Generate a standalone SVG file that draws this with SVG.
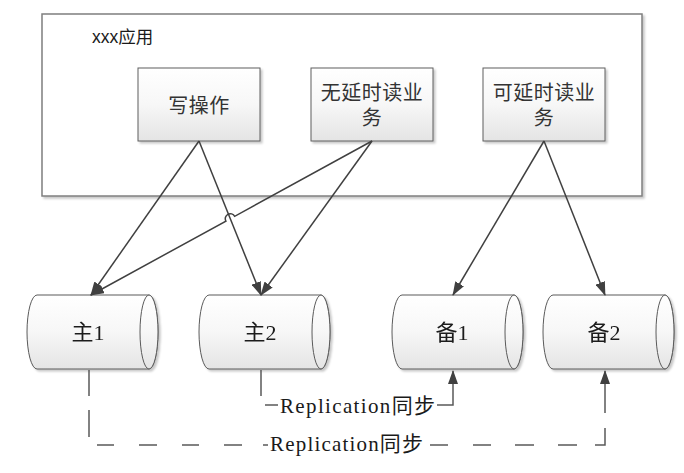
<svg xmlns="http://www.w3.org/2000/svg" width="684" height="473" viewBox="0 0 684 473">
<defs>
<linearGradient id="g" x1="0" y1="0" x2="0" y2="1">
<stop offset="0" stop-color="#ffffff"/>
<stop offset="0.5" stop-color="#f7f7f7"/>
<stop offset="1" stop-color="#e4e4e4"/>
</linearGradient>
<filter id="sh" x="-10%" y="-10%" width="130%" height="130%">
<feDropShadow dx="2" dy="2" stdDeviation="1.2" flood-color="#000" flood-opacity="0.22"/>
</filter>
<marker id="ah" markerUnits="userSpaceOnUse" markerWidth="14" markerHeight="10" refX="13" refY="5" orient="auto">
<path d="M0,0 L14,5 L0,10 Z" fill="#404040"/>
</marker>
</defs>
<style>
.box{fill:url(#g);stroke:#5f5f5f;stroke-width:1;filter:url(#sh)}
.cyl{fill:url(#g);stroke:#5a5a5a;stroke-width:1}
.t{font-family:"Liberation Sans","Noto Sans CJK SC",sans-serif;font-size:20px;fill:#333333;text-anchor:middle;letter-spacing:0.5px}
.s{font-family:"Liberation Serif","Noto Sans CJK SC",serif;font-size:22px;fill:#1a1a1a;text-anchor:middle}
.l{font-family:"Liberation Serif","Noto Sans CJK SC",serif;font-size:21px;fill:#1a1a1a}
.c{fill:none;stroke:#404040;stroke-width:1.5}
.d{fill:none;stroke:#595959;stroke-width:1.5}
</style>

<g id="app">
<rect x="42" y="14" width="600" height="182" fill="#ffffff" stroke="#7f7f7f" stroke-width="1.5" filter="url(#sh)"/>
<text x="92" y="43" font-family="'Liberation Sans','Noto Sans CJK SC',sans-serif" font-size="17.5" fill="#1a1a1a">xxx应用</text>
</g>

<g id="write">
<rect class="box" x="138" y="68" width="122" height="73"/>
<text class="t" x="199" y="113">写操作</text>
</g>
<g id="read-nodelay">
<rect class="box" x="311" y="68" width="122" height="73"/>
<text class="t" x="372" y="100">无延时读业</text>
<text class="t" x="372" y="125">务</text>
</g>
<g id="read-delay">
<rect class="box" x="483" y="68" width="122" height="73"/>
<text class="t" x="544" y="100">可延时读业</text>
<text class="t" x="544" y="125">务</text>
</g>

<g id="master1" filter="url(#sh)">
<path class="cyl" d="M37,295 L149,295 A9,37 0 0 1 149,369 L37,369 A10,37 0 0 1 37,295 Z"/>
<ellipse class="cyl" cx="149" cy="332" rx="9" ry="37"/>
<text class="s" x="88" y="340">主1</text>
</g>
<g id="master2" filter="url(#sh)">
<path class="cyl" d="M209,295 L321,295 A9,37 0 0 1 321,369 L209,369 A10,37 0 0 1 209,295 Z"/>
<ellipse class="cyl" cx="321" cy="332" rx="9" ry="37"/>
<text class="s" x="260" y="340">主2</text>
</g>
<g id="backup1" filter="url(#sh)">
<path class="cyl" d="M402,295 L514,295 A9,37 0 0 1 514,369 L402,369 A10,37 0 0 1 402,295 Z"/>
<ellipse class="cyl" cx="514" cy="332" rx="9" ry="37"/>
<text class="s" x="452" y="340">备1</text>
</g>
<g id="backup2" filter="url(#sh)">
<path class="cyl" d="M553,295 L665,295 A9,37 0 0 1 665,369 L553,369 A10,37 0 0 1 553,295 Z"/>
<ellipse class="cyl" cx="665" cy="332" rx="9" ry="37"/>
<text class="s" x="604" y="340">备2</text>
</g>

<g id="connectors">
<path class="c" d="M199,141 L91,295" marker-end="url(#ah)"/>
<path class="c" d="M199,141 L261,295" marker-end="url(#ah)"/>
<path class="c" d="M372,141 L234.7,216.3 A5,5 0 0 0 225.9,221.1 L91,295" marker-end="url(#ah)"/>
<path class="c" d="M372,141 L261,295" marker-end="url(#ah)"/>
<path class="c" d="M544,141 L453,295" marker-end="url(#ah)"/>
<path class="c" d="M544,141 L605,295" marker-end="url(#ah)"/>

<path class="d" d="M261,370 V396 M265,405 H278 M437,405 H453 V371" marker-end="url(#ah)"/>
<text class="l" x="280" y="413" textLength="155" lengthAdjust="spacing">Replication同步</text>

<path class="d" d="M89,370 V396 M89,410 V437 M97,445 H114 M139,445 H157 M182,445 H199 M224,445 H242 M263,445 H268 M430,445 H448 M473,445 H491 M515,445 H534 M558,445 H577 M595,445 H605 V428"/>
<path class="d" d="M605,413 V371" marker-end="url(#ah)"/>
<text class="l" x="270" y="451" textLength="153" lengthAdjust="spacing">Replication同步</text>
</g>
</svg>
